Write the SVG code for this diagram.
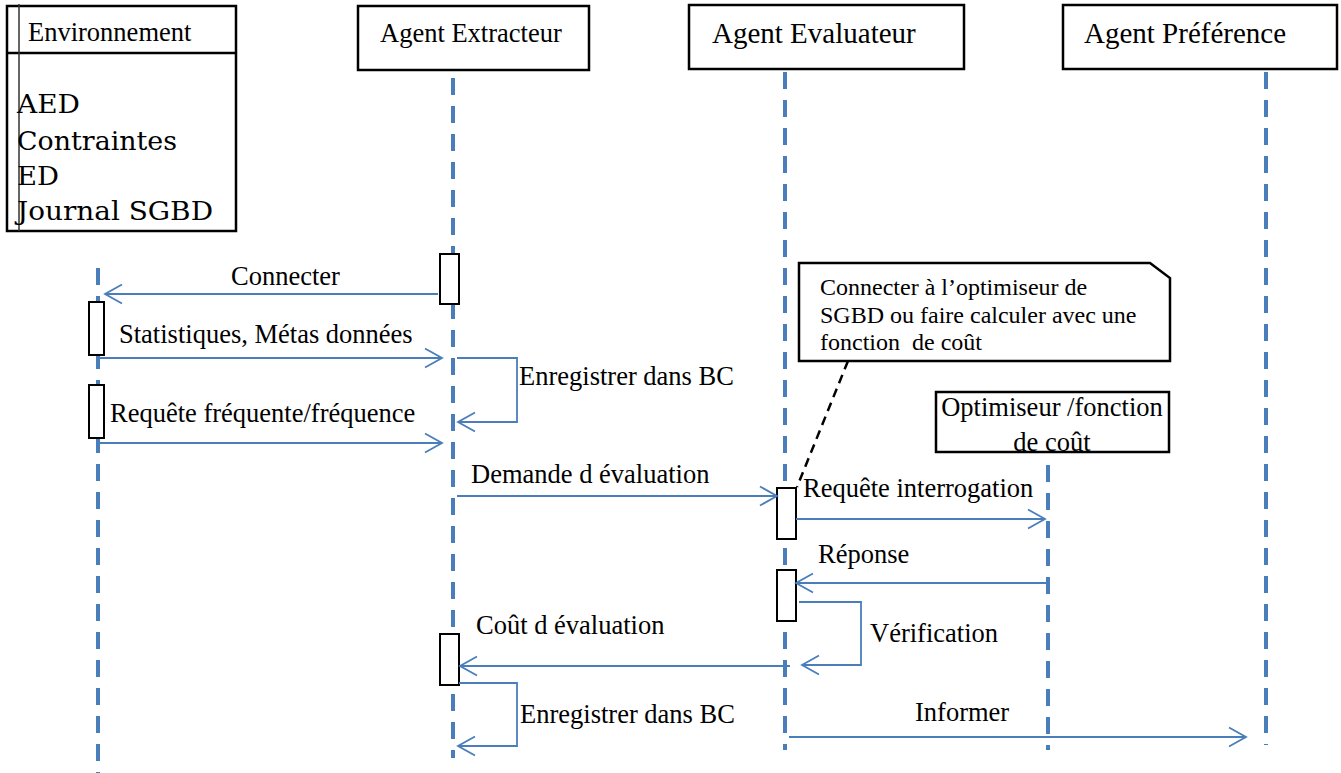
<svg xmlns="http://www.w3.org/2000/svg" width="1341" height="773" viewBox="0 0 1341 773">
<style>
text{font-family:"Liberation Serif","Times New Roman",serif;fill:#000}
.t{font-size:26.5px}
.n{font-size:24px}
.env{font-family:"DejaVu Serif","Liberation Serif",serif;font-size:26px}
.box{fill:#fff;stroke:#000;stroke-width:2.5}
.act{fill:#fff;stroke:#000;stroke-width:2}
.life{stroke:#4A7EBB;stroke-width:4;stroke-dasharray:17 11;fill:none}
.msg{stroke:#4A7EBB;stroke-width:1.8;fill:none;marker-end:url(#arr)}
</style>
<defs>
<marker id="arr" markerUnits="userSpaceOnUse" viewBox="-19 -11 21 22" refX="0" refY="0" markerWidth="21" markerHeight="22" orient="auto">
<path d="M-17,-9.5 L0,0 L-17,9.5" fill="none" stroke="#4A7EBB" stroke-width="1.8"/>
</marker>
</defs>
<rect width="1341" height="773" fill="#fff"/>

<g id="lifelines">
<line class="life" x1="98" y1="268" x2="98" y2="773"/>
<line class="life" x1="453" y1="78" x2="453" y2="758"/>
<line class="life" x1="785" y1="72" x2="785" y2="750"/>
<line class="life" x1="1048" y1="465" x2="1048" y2="750"/>
<line class="life" x1="1266" y1="72" x2="1266" y2="745"/>
</g>

<g id="environnement">
<rect class="box" x="7" y="6" width="229" height="225"/>
<line x1="7" y1="53" x2="236" y2="53" stroke="#000" stroke-width="2.5"/>
<line x1="19" y1="4" x2="19" y2="231" stroke="#333" stroke-width="1.5"/>
<text class="t" x="28" y="41">Environnement</text>
<text class="env" x="17" y="113" textLength="63" lengthAdjust="spacingAndGlyphs">AED</text>
<text class="env" x="17" y="150" textLength="160" lengthAdjust="spacingAndGlyphs">Contraintes</text>
<text class="env" x="17" y="185" textLength="42" lengthAdjust="spacingAndGlyphs">ED</text>
<text class="env" x="17" y="220" textLength="196" lengthAdjust="spacingAndGlyphs">Journal SGBD</text>
</g>

<g id="agent-extracteur">
<rect class="box" x="358" y="6" width="231" height="64"/>
<text class="t" x="380" y="42">Agent Extracteur</text>
</g>

<g id="agent-evaluateur">
<rect class="box" x="689" y="5" width="275" height="64"/>
<text class="t" x="712" y="43" style="font-size:29px">Agent Evaluateur</text>
</g>

<g id="agent-preference">
<rect class="box" x="1063" y="5" width="274" height="64"/>
<text class="t" x="1084" y="43" style="font-size:29px">Agent Préférence</text>
</g>

<g id="optimiseur">
<rect class="box" x="936" y="392" width="233" height="60"/>
<text class="t" x="1052" y="416" text-anchor="middle">Optimiseur /fonction</text>
<text class="t" x="1052" y="451" text-anchor="middle">de coût</text>
</g>

<g id="note">
<path class="box" d="M799,263 L1150,263 L1170,278 L1170,361 L799,361 Z"/>
<text class="n" x="820" y="295">Connecter à l’optimiseur de</text>
<text class="n" x="820" y="323">SGBD ou faire calculer avec une</text>
<text class="n" x="820" y="350" xml:space="preserve">fonction  de coût</text>
</g>

<g id="activations">
<rect class="act" x="440" y="254" width="19" height="50"/>
<rect class="act" x="89" y="302" width="15" height="53"/>
<rect class="act" x="89" y="385" width="15" height="53"/>
<rect class="act" x="777" y="488" width="19" height="51"/>
<rect class="act" x="777" y="570" width="19" height="51"/>
<rect class="act" x="440" y="634" width="19" height="51"/>
</g>

<g id="connectors">
<line x1="848" y1="361" x2="797" y2="487" stroke="#000" stroke-width="2.5" stroke-dasharray="9 6"/>
<line class="msg" x1="438" y1="294" x2="105" y2="294"/>
<line class="msg" x1="98" y1="358" x2="442" y2="358"/>
<polyline class="msg" points="457,358 517,358 517,422 458,422"/>
<line class="msg" x1="98" y1="443" x2="442" y2="443"/>
<line class="msg" x1="457" y1="496" x2="777" y2="496"/>
<line class="msg" x1="796" y1="519" x2="1045" y2="519"/>
<line class="msg" x1="1047" y1="583" x2="796" y2="583"/>
<polyline class="msg" points="799,602 861,602 861,665 802,665"/>
<line class="msg" x1="790" y1="666" x2="460" y2="666"/>
<polyline class="msg" points="459,683 517,683 517,746 458,746"/>
<line class="msg" x1="789" y1="737" x2="1246" y2="737"/>
</g>

<g id="labels">
<text class="t" x="231" y="285">Connecter</text>
<text class="t" x="119" y="343">Statistiques, Métas données</text>
<text class="t" x="519" y="385">Enregistrer dans BC</text>
<text class="t" x="110" y="422">Requête fréquente/fréquence</text>
<text class="t" x="471" y="483">Demande d évaluation</text>
<text class="t" x="803" y="497">Requête interrogation</text>
<text class="t" x="818" y="563">Réponse</text>
<text class="t" x="870" y="642">Vérification</text>
<text class="t" x="476" y="634">Coût d évaluation</text>
<text class="t" x="520" y="723">Enregistrer dans BC</text>
<text class="t" x="915" y="721">Informer</text>
</g>
</svg>
